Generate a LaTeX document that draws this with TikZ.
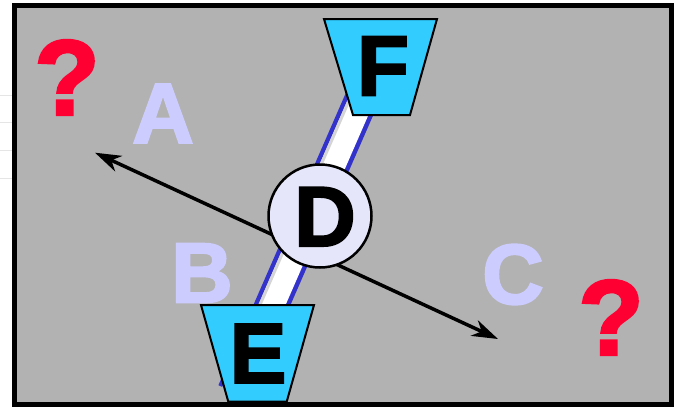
\documentclass[tikz,border=0pt]{standalone}
\usepackage{fontspec}
\newfontfamily\heavy[FakeBold=2.5]{Liberation Sans Bold}
\usetikzlibrary{arrows.meta,calc}
\definecolor{panel}{HTML}{B2B2B2}
\definecolor{tapcyan}{HTML}{33CCFF}
\definecolor{pale}{HTML}{CCCCFF}
\definecolor{disc}{HTML}{E6E6FA}
\definecolor{alarm}{HTML}{FF0033}
\definecolor{rail}{HTML}{3333CC}
\begin{document}
\begin{tikzpicture}[x=1pt,y=-1pt,
  capital/.style={font=\heavy\fontsize{85}{85}\selectfont, inner sep=0pt},
  ghost/.style={capital, text=pale},
  query/.style={font=\heavy\fontsize{107}{107}\selectfont, inner sep=0pt, text=alarm},
  cup/.style={draw=black, line width=2pt, fill=tapcyan, line join=miter},
  >={Stealth[length=26pt,width=17pt,inset=8pt]},
]
\useasboundingbox (0,0) rectangle (674,407);
\fill[white] (0,0) rectangle (674,407);
% faint ruling at the left margin
\foreach \y in {95,122,150,178} \draw[black!10, line width=1pt] (0,\y) -- (12,\y);
% framed panel
\draw[line width=5pt, fill=panel] (14.5,5.5) rectangle (671.5,404.5);

% pale labels and question marks
\node[ghost] (A) at (163,113.5) {A};
\node[ghost] (B) at (202,273) {B};
\node[ghost] (C) at (513,274.5) {C};
\node[query] (q1) at (67,77.5) {?};
\node[query] (q2) at (611,317.5) {?};

% rail between the two cups
\coordinate (railbot) at (234,392);
\coordinate (railtop) at (370,80);
\draw[rail, line width=34pt] (railbot) -- (railtop);
\draw[white, line width=25pt] (railbot) -- (railtop);
\draw[panel!55!white, line width=3pt] ($(railbot)+(-10.1,-4.4)$) -- ($(railtop)+(-10.1,-4.4)$);

% double-headed arrow
\coordinate (tipA) at (95,152.7);
\coordinate (tipC) at (498,339);
\draw[line width=3.5pt, <->] (tipA) -- (tipC);

% central disc
\node[circle, draw, line width=2.5pt, fill=disc, minimum size=103pt, inner sep=0pt] (D) at (320,216) {};
\node[capital] (Dtxt) at (325,216.7) {D};

% cups
\draw[cup] (324,19) -- (437,19) -- (410,115) -- (353,115) -- cycle;
\node[capital] (F) at (383,66) {F};
\draw[cup] (201,305) -- (314,305) -- (286.7,401.7) -- (228.3,401.7) -- cycle;
\node[capital] (E) at (258,353.5) {E};
\end{tikzpicture}
\end{document}
